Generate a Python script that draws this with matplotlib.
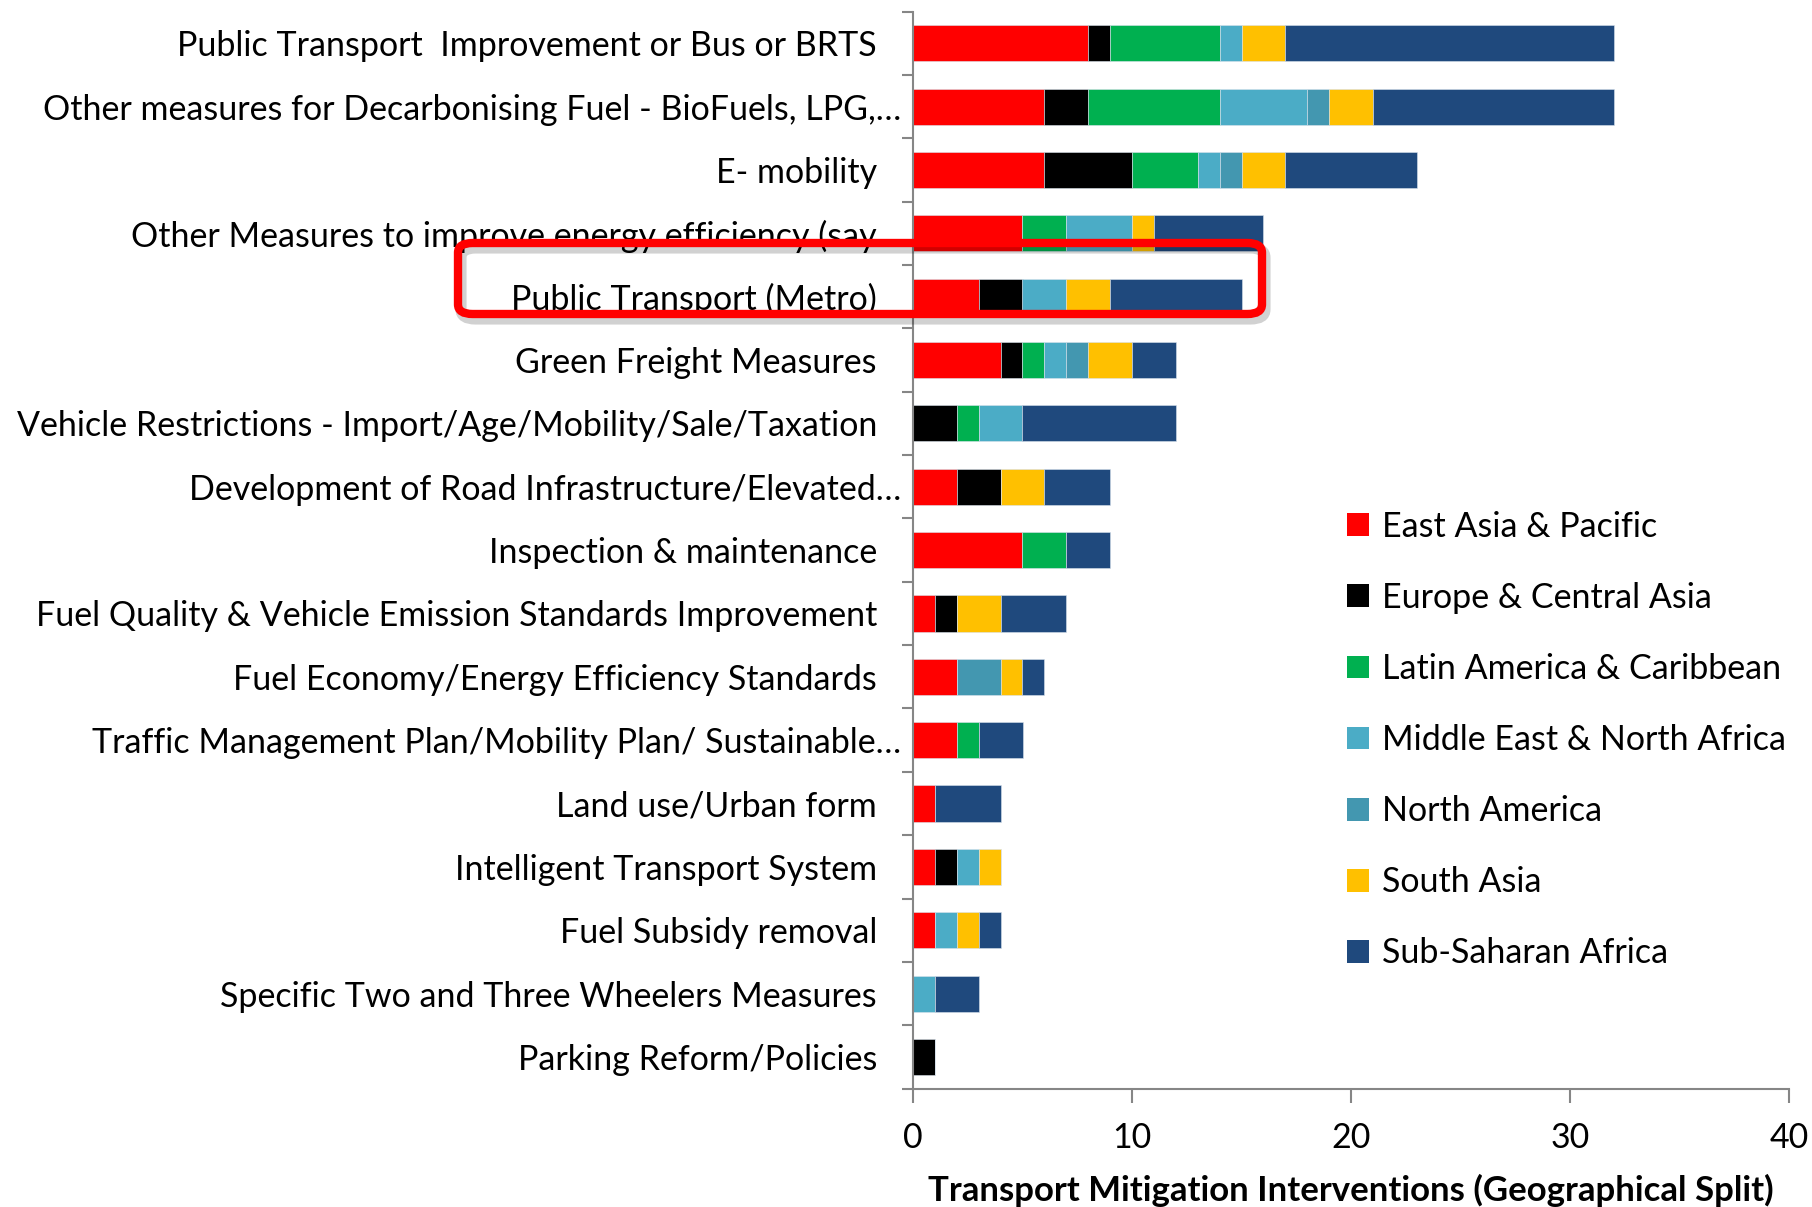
import matplotlib
matplotlib.use("Agg")
import matplotlib.pyplot as plt
import numpy as np
from matplotlib.patches import FancyBboxPatch, Patch
from matplotlib.transforms import ScaledTranslation

plt.rcParams['font.family'] = ['Lato', 'DejaVu Sans']

categories = [
    "Public Transport  Improvement or Bus or BRTS",
    "Other measures for Decarbonising Fuel - BioFuels, LPG,…",
    "E- mobility",
    "Other Measures to improve energy efficiency (say",
    "Public Transport (Metro)",
    "Green Freight Measures",
    "Vehicle Restrictions - Import/Age/Mobility/Sale/Taxation",
    "Development of Road Infrastructure/Elevated…",
    "Inspection & maintenance",
    "Fuel Quality & Vehicle Emission Standards Improvement",
    "Fuel Economy/Energy Efficiency Standards",
    "Traffic Management Plan/Mobility Plan/ Sustainable…",
    "Land use/Urban form",
    "Intelligent Transport System",
    "Fuel Subsidy removal",
    "Specific Two and Three Wheelers Measures",
    "Parking Reform/Policies",
]

regions = ["East Asia & Pacific", "Europe & Central Asia", "Latin America & Caribbean",
           "Middle East & North Africa", "North America", "South Asia", "Sub-Saharan Africa"]

east_asia_pacific      = [8, 6, 6, 5, 3, 4, 0, 2, 5, 1, 2, 2, 1, 1, 1, 0, 0]
europe_central_asia    = [1, 2, 4, 0, 2, 1, 2, 2, 0, 1, 0, 0, 0, 1, 0, 0, 1]
latin_america_carib    = [5, 6, 3, 2, 0, 1, 1, 0, 2, 0, 0, 1, 0, 0, 0, 0, 0]
middle_east_n_africa   = [1, 4, 1, 3, 2, 1, 2, 0, 0, 0, 0, 0, 0, 1, 1, 1, 0]
north_america          = [0, 1, 1, 0, 0, 1, 0, 0, 0, 0, 2, 0, 0, 0, 0, 0, 0]
south_asia             = [2, 2, 2, 1, 2, 2, 0, 2, 0, 2, 1, 0, 0, 1, 1, 0, 0]
sub_saharan_africa     = [15, 11, 6, 5, 6, 2, 7, 3, 2, 3, 1, 2, 3, 0, 1, 2, 0]

series = [east_asia_pacific, europe_central_asia, latin_america_carib,
          middle_east_n_africa, north_america, south_asia, sub_saharan_africa]
colors = ["#FF0000", "#000000", "#00B050", "#4BACC6", "#4397B0", "#FFC000", "#1F497D"]

x_ticks = [0, 10, 20, 30, 40]
x_label = "Transport Mitigation Interventions (Geographical Split)"

W, H = 1812, 1207
fig = plt.figure(figsize=(W / 100, H / 100), dpi=100)
ax = fig.add_axes([913 / W, 1 - 1088.6 / H, (1789 - 913) / W, (1088.6 - 11.6) / H])

FS = 24.5
GRAY = "#868686"

y = np.arange(len(categories))
left = np.zeros(len(categories))
for vals, col, name in zip(series, colors, regions):
    v = np.array(vals, dtype=float)
    ax.barh(y, v, left=left, height=0.57, color=col, label=name,
            edgecolor="#D9E2EC", linewidth=0.4, zorder=2)
    left += v

ax.set_ylim(len(categories) - 0.5, -0.5)
ax.set_xlim(0, 40)
ax.set_xticks(x_ticks)
ax.set_xticklabels([str(t) for t in x_ticks], fontsize=FS)
ax.set_yticks(y)
ax.set_yticklabels(categories, fontsize=FS)
ax.set_yticks(np.arange(-0.5, len(categories), 1.0), minor=True)
ax.tick_params(axis='y', which='major', length=0, pad=26)
ax.tick_params(axis='y', which='minor', length=8, width=1.5, color=GRAY, left=True)
ax.tick_params(axis='x', which='major', length=10, width=1.5, color=GRAY, pad=14)

for side in ['top', 'right']:
    ax.spines[side].set_visible(False)
for side in ['left', 'bottom']:
    ax.spines[side].set_color(GRAY)
    ax.spines[side].set_linewidth(1.5)

ax.set_xlabel(x_label, fontsize=25, fontweight='bold', labelpad=14)

# hanging ellipsis for truncated labels
fig.canvas.draw()
r = fig.canvas.get_renderer()
tmp = fig.text(0, 0, "…", fontsize=FS)
ew = tmp.get_window_extent(renderer=r).width
tmp.remove()
for lab in ax.get_yticklabels():
    if lab.get_text().endswith("…"):
        lab.set_transform(lab.get_transform() + ScaledTranslation(ew * 0.95 / 100, 0, fig.dpi_scale_trans))

handles = [Patch(facecolor=c, edgecolor='none') for c in colors]
leg = fig.legend(handles, regions, loc='upper left', bbox_to_anchor=(1333 / W, 1 - 497 / H),
                 frameon=False, fontsize=FS, handlelength=0.65, handleheight=0.65,
                 handletextpad=0.4, labelspacing=1.15, borderaxespad=0)

# highlight box around "Public Transport (Metro)"
x0, y0, x1, y1 = 458 / W, 1 - 314 / H, 1262 / W, 1 - 243 / H
shadow = FancyBboxPatch((x0 + 3 / W, y0 - 5 / H), x1 - x0, y1 - y0,
                        boxstyle="round,pad=0,rounding_size=0.008",
                        transform=fig.transFigure, fill=False, edgecolor="#000000",
                        alpha=0.18, linewidth=8, zorder=9)
box = FancyBboxPatch((x0, y0), x1 - x0, y1 - y0,
                     boxstyle="round,pad=0,rounding_size=0.008",
                     transform=fig.transFigure, fill=False, edgecolor="#FF0000",
                     linewidth=6, zorder=10)
fig.patches.append(shadow)
fig.patches.append(box)

fig.savefig("out.png", dpi=100)
